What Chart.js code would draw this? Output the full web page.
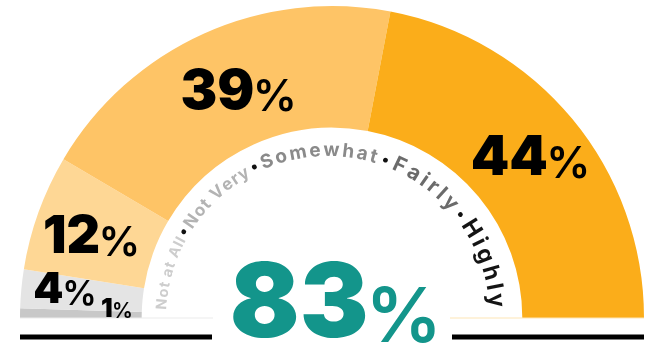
<!DOCTYPE html>
<html>
<head>
<meta charset="utf-8">
<script src="https://cdn.jsdelivr.net/npm/chart.js@4.4.1/dist/chart.umd.min.js"></script>
<style>
  html, body { margin: 0; padding: 0; background: #fff; }
  canvas { display: block; }
</style>
</head>
<body>
<canvas id="gauge" width="650" height="344"></canvas>
<script>
// Survey answers, from the lowest to the highest level
const categories = ['Not at All', 'Not Very', 'Somewhat', 'Fairly', 'Highly'];
const values = [1, 4, 12, 39, 44];
// the headline figure combines the two top answers
const topIndexes = [3, 4];

// look of the slices and the ring of answer names
const sliceColors = ['#c8c8c8', '#e4e4e4', '#fed795', '#fec466', '#fbad1a'];
const wordColors = ['#cdcdcd', '#b3b3b3', '#8a8a8a', '#6b6b6b', '#141414'];
const wordSizes = [14.5, 17, 19, 21, 23];
// arc taken by each answer name on the inner ring, degrees [from, to]
const wordArcs = [[177.2, 151.3], [147, 118.5], [113.5, 73], [67, 41], [35, 3.5]];
// per slice value label: shift from the slice centre [dx, dy] and digit size
const labelShift = [[36, -7], [-17, -7], [-4, 1], [10, -1], [5, -3]];
const labelSize = [26, 43, 52, 55, 55];

const FONT = 'Inter, "Open Sans", sans-serif';

function drawPercent(ctx, cx, cy, num, size, color, pctRatio) {
  const dFont = `900 ${size}px ${FONT}`;
  const pSize = size * pctRatio;
  const pFont = `600 ${pSize}px ${FONT}`;
  ctx.font = dFont;
  const dm = ctx.measureText(num);
  ctx.font = pFont;
  const pm = ctx.measureText('%');
  const gap = -size * 0.03;
  const total = dm.width + gap + pm.width;
  const base = cy + dm.actualBoundingBoxAscent / 2;
  const x = cx - total / 2;
  ctx.fillStyle = color;
  ctx.textAlign = 'left';
  ctx.textBaseline = 'alphabetic';
  ctx.font = dFont;
  ctx.fillText(num, x, base);
  ctx.font = pFont;
  ctx.fillText('%', x + dm.width + gap, base + size * 0.05);
}

// answer names written clockwise along an arc, words separated by dots
function drawRingText(ctx, cx, cy, r) {
  ctx.textAlign = 'center';
  ctx.textBaseline = 'alphabetic';
  const rad = d => d * Math.PI / 180;
  const put = (th, draw) => {
    ctx.save();
    ctx.translate(cx + r * Math.cos(th), cy - r * Math.sin(th));
    ctx.rotate(Math.PI / 2 - th);
    draw();
    ctx.restore();
  };
  categories.forEach((word, i) => {
    ctx.font = `700 ${wordSizes[i]}px ${FONT}`;
    const [from, to] = wordArcs[i];
    const glyphs = [...word].map(ch => ({ ch, w: ctx.measureText(ch).width }));
    const natural = glyphs.reduce((s, g) => s + g.w, 0);
    const span = rad(from - to) * r;
    const ls = (span - natural) / (glyphs.length - 1);
    let walked = 0;
    glyphs.forEach(g => {
      const th = rad(from) - (walked + g.w / 2) / r;
      put(th, () => { ctx.fillStyle = wordColors[i]; ctx.fillText(g.ch, 0, 0); });
      walked += g.w + ls;
    });
    if (i > 0) {
      const th = rad((wordArcs[i - 1][1] + from) / 2);
      put(th, () => {
        ctx.fillStyle = '#111';
        ctx.beginPath();
        ctx.arc(0, -6, 2.4, 0, Math.PI * 2);
        ctx.fill();
      });
    }
  });
}

const gaugeDecor = {
  id: 'gaugeDecor',
  afterDatasetsDraw(chart) {
    const ctx = chart.ctx;
    const meta = chart.getDatasetMeta(0);
    const first = meta.data[0];
    const cx = first.x, cy = first.y;
    const area = chart.chartArea;
    ctx.save();

    // base rules under the gauge
    ctx.fillStyle = '#ececec';
    ctx.fillRect(area.left, cy - 0.5, 193, 1);
    ctx.fillStyle = '#fde6b5';
    ctx.fillRect(area.right - 194, cy - 0.5, 194, 1);
    ctx.fillStyle = '#000';
    ctx.fillRect(area.left, cy + 16.5, 192, 5);
    ctx.fillRect(area.right - 192, cy + 16.5, 192, 5);

    // value label of each slice
    meta.data.forEach((arc, i) => {
      const p = arc.tooltipPosition();
      drawPercent(ctx, p.x + labelShift[i][0], p.y + labelShift[i][1],
        String(values[i]), labelSize[i], '#000', 0.8);
    });

    // answer names around the inner edge
    drawRingText(ctx, cx - 4, cy, 162);

    // headline share
    const headline = topIndexes.reduce((s, i) => s + values[i], 0);
    drawPercent(ctx, cx + 4, cy - 19, String(headline), 103, '#13958b', 0.74);

    ctx.restore();
  }
};

new Chart(document.getElementById('gauge'), {
  type: 'doughnut',
  data: {
    labels: categories,
    datasets: [{
      data: values,
      backgroundColor: sliceColors,
      borderWidth: 0,
      hoverOffset: 0
    }]
  },
  options: {
    responsive: false,
    animation: false,
    rotation: -90,
    circumference: 180,
    cutout: '61%',
    layout: { padding: { left: 20, right: 6, top: 6, bottom: 26 } },
    plugins: {
      legend: { display: false },
      tooltip: { enabled: false }
    },
    events: []
  },
  plugins: [gaugeDecor]
});
</script>
</body>
</html>
